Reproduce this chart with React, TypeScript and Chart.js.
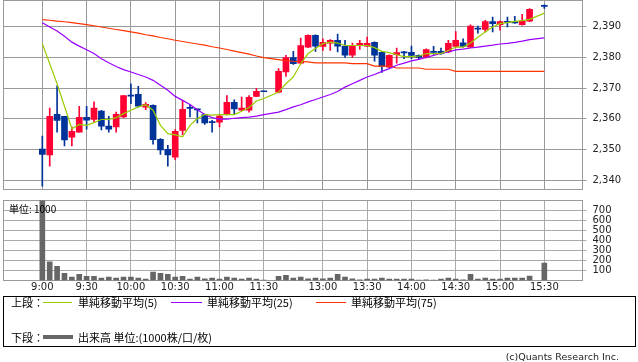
import React, { useEffect, useRef } from 'react';
import { Chart, registerables } from 'chart.js';

Chart.register(...registerables);

const categories = [
  '9:00', '9:05', '9:10', '9:15', '9:20', '9:25', '9:30', '9:35', '9:40', '9:45', '9:50', '9:55',
  '10:00', '10:05', '10:10', '10:15', '10:20', '10:25', '10:30', '10:35', '10:40', '10:45', '10:50', '10:55',
  '11:00', '11:05', '11:10', '11:15', '11:20', '11:25', '11:30', '',
  '12:30', '12:35', '12:40', '12:45', '12:50', '12:55',
  '13:00', '13:05', '13:10', '13:15', '13:20', '13:25', '13:30', '13:35', '13:40', '13:45', '13:50', '13:55',
  '14:00', '14:05', '14:10', '14:15', '14:20', '14:25', '14:30', '14:35', '14:40', '14:45', '14:50', '14:55',
  '15:00', '15:05', '15:10', '15:15', '15:20', '15:25', '15:30',
];

const openP = [
  2350.2, 2348.3, 2361.5, 2360.8, 2354.1, 2355.7, 2360.5, 2359.8, 2362.5, 2357.7, 2357.4, 2360.6,
  2367.6, 2368.0, 2363.8, 2364.4, 2353.4, 2350.1, 2347.6, 2356.3, 2363.6, 2363.1, 2361.4, 2359.0,
  2358.9, 2361.5, 2365.4, 2362.8, 2362.8, 2367.3, 2369.0, null,
  2368.7, 2375.2, 2379.9, 2378.1, 2383.3, 2387.1,
  2383.5, 2384.6, 2385.5, 2383.6, 2380.7, 2383.8, 2383.6, 2384.8, 2381.6, 2376.8, 2380.8, 2381.6,
  2381.6, 2380.6, 2380.0, 2381.8, 2381.9, 2381.7, 2383.5, 2384.7, 2383.3, 2389.3, 2389.0, 2391.6,
  2390.6, 2391.5, 2391.5, 2390.6, 2391.7, null, 2396.5,
];
const highP = [
  2354.4, 2363.5, 2370.7, 2360.8, 2357.4, 2364.1, 2364.1, 2365.5, 2362.8, 2360.8, 2362.2, 2367.6,
  2371.4, 2370.6, 2365.3, 2364.6, 2353.6, 2351.4, 2356.5, 2366.0, 2364.6, 2363.2, 2361.6, 2359.5,
  2361.5, 2367.6, 2366.2, 2367.1, 2367.6, 2369.9, 2369.0, null,
  2376.3, 2380.6, 2381.9, 2386.2, 2387.3, 2387.3,
  2386.0, 2385.7, 2387.5, 2385.5, 2384.6, 2385.5, 2386.5, 2385.0, 2381.8, 2380.8, 2383.0, 2381.9,
  2383.6, 2380.8, 2382.7, 2383.5, 2383.0, 2385.5, 2388.3, 2386.0, 2390.5, 2390.1, 2392.0, 2393.0,
  2391.8, 2393.0, 2393.3, 2393.9, 2395.8, null, 2397.0,
];
const lowP = [
  2338.2, 2344.7, 2355.7, 2351.2, 2351.2, 2355.7, 2356.7, 2359.0, 2356.4, 2355.7, 2355.7, 2360.4,
  2364.9, 2363.8, 2363.0, 2351.8, 2348.5, 2344.7, 2346.8, 2354.9, 2360.6, 2358.7, 2358.2, 2355.7,
  2357.4, 2361.3, 2361.5, 2362.6, 2362.2, 2367.2, 2368.8, null,
  2368.4, 2373.8, 2377.7, 2377.8, 2383.1, 2381.9,
  2382.2, 2382.2, 2381.7, 2379.9, 2379.9, 2382.5, 2383.4, 2378.7, 2375.1, 2376.6, 2378.1, 2379.5,
  2379.5, 2379.2, 2379.8, 2380.9, 2380.9, 2381.5, 2383.3, 2383.3, 2383.1, 2387.8, 2388.2, 2388.2,
  2388.8, 2389.8, 2391.0, 2390.4, 2391.5, null, 2395.8,
];
const closeP = [
  2348.5, 2360.8, 2359.5, 2353.2, 2356.0, 2360.5, 2359.6, 2363.5, 2357.6, 2356.7, 2361.5, 2367.6,
  2367.4, 2364.1, 2364.7, 2353.3, 2349.9, 2348.3, 2356.0, 2363.1, 2363.4, 2362.9, 2358.7, 2358.8,
  2360.9, 2365.4, 2363.2, 2363.5, 2367.0, 2368.9, 2368.8, null,
  2375.4, 2379.9, 2377.9, 2383.8, 2387.1, 2383.6,
  2384.8, 2385.5, 2383.6, 2380.7, 2383.6, 2384.5, 2384.5, 2380.7, 2377.0, 2380.6, 2381.5, 2381.4,
  2380.6, 2379.9, 2382.5, 2381.6, 2381.2, 2384.5, 2385.5, 2383.5, 2390.1, 2389.1, 2391.6, 2390.9,
  2391.6, 2391.3, 2391.1, 2391.7, 2395.5, null, 2396.5,
];

const sma5 = [
  2384.4, 2377.9, 2371.4, 2364.1, 2356.8, 2358.2, 2357.9, 2358.8, 2359.8, 2359.8, 2360.4, 2361.7,
  2362.8, 2363.9, 2364.6, 2362.8, 2357.9, 2355.2, 2354.8, 2354.2, 2357.9, 2360.1, 2361.4, 2361.2,
  2361.4, 2361.4, 2361.4, 2362.5, 2363.7, 2365.8, 2366.6, null,
  2368.7, 2371.4, 2373.6, 2377.9, 2381.2, 2382.8,
  2384.4, 2384.9, 2384.6, 2383.8, 2383.8, 2383.8, 2383.8, 2383.1, 2381.9, 2381.5, 2380.8, 2380.2,
  2380.2, 2380.4, 2381.2, 2381.2, 2381.2, 2382.2, 2383.3, 2383.3, 2384.6, 2386.5, 2388.2, 2389.8,
  2390.9, 2391.2, 2391.6, 2391.9, 2392.3, null, 2394.3,
];
const sma25 = [
  2391.2, 2389.8, 2388.5, 2386.8, 2384.9, 2383.6, 2382.4, 2381.2, 2379.5, 2378.2, 2377.0, 2376.0,
  2375.2, 2374.4, 2373.6, 2372.5, 2370.9, 2369.3, 2367.3, 2366.0, 2364.7, 2363.0, 2361.4, 2360.4,
  2359.9, 2359.9, 2360.2, 2360.4, 2360.6, 2360.9, 2361.4, null,
  2362.2, 2363.0, 2363.9, 2364.6, 2365.5, 2366.3,
  2367.1, 2367.9, 2368.9, 2370.3, 2371.4, 2372.5, 2373.6, 2374.4, 2375.4, 2376.3, 2377.4, 2378.1,
  2378.8, 2379.3, 2379.9, 2380.6, 2381.2, 2381.7, 2382.4, 2382.6, 2383.0, 2383.3, 2383.6, 2383.9,
  2384.3, 2384.5, 2384.8, 2385.2, 2385.7, null, 2386.3,
];
const sma75 = [
  2392.2, 2392.0, 2391.7, 2391.5, 2391.2, 2390.9, 2390.6, 2390.2, 2389.8, 2389.4, 2389.0, 2388.6,
  2388.2, 2387.8, 2387.3, 2386.9, 2386.4, 2386.0, 2385.5, 2385.1, 2384.7, 2384.3, 2383.9, 2383.4,
  2383.0, 2382.5, 2382.0, 2381.5, 2381.0, 2380.4, 2379.9, null,
  2379.2, 2378.9, 2378.7, 2378.6, 2378.5, 2378.2,
  2378.2, 2378.2, 2378.2, 2378.2, 2377.9, 2377.9, 2377.9, 2377.1, 2377.1, 2377.1, 2376.5, 2376.5,
  2376.5, 2376.5, 2376.1, 2376.1, 2376.1, 2376.1, 2375.4, 2375.4, 2375.4, 2375.4, 2375.4, 2375.4,
  2375.4, 2375.4, 2375.4, 2375.4, 2375.4, null, 2375.4,
];

const volume = [
  1000, 186, 142, 71, 34, 61, 41, 41, 24, 34, 24, 34,
  34, 24, 14, 85, 71, 61, 34, 41, 14, 34, 17, 24,
  14, 34, 24, 14, 24, 14, 3, null,
  41, 51, 24, 34, 17, 24,
  17, 24, 61, 34, 17, 7, 14, 14, 24, 14, 14, 14,
  14, 3, 7, 3, 14, 24, 14, 7, 61, 14, 24, 14,
  14, 24, 24, 24, 44, null, 173,
];

const priceTicks = [2340, 2350, 2360, 2370, 2380, 2390];
const volumeTicks = [100, 200, 300, 400, 500, 600, 700];
const timeTicks = ['9:00', '9:30', '10:00', '10:30', '11:00', '11:30', '13:00', '13:30', '14:00', '14:30', '15:00', '15:30'];

const UP = '#ff0033';
const DOWN = '#003399';
const X_MIN = -5.26;
const X_MAX = 73.17;
const FONT = "'DejaVu Sans', sans-serif";
const CJK = "'Noto Sans CJK JP', 'DejaVu Sans', sans-serif";

const framePlugin = (color: string) => ({
  id: 'frame',
  beforeDatasetsDraw(chart: any) {
    const { ctx, chartArea: a } = chart;
    ctx.save();
    ctx.strokeStyle = color;
    ctx.lineWidth = 1;
    ctx.strokeRect(a.left, a.top, a.right - a.left, a.bottom - a.top);
    ctx.restore();
  },
});

const noPad = (s: any) => {
  s.paddingTop = 0;
  s.paddingBottom = 0;
  s.paddingLeft = 0;
  s.paddingRight = 0;
};

export default function App() {
  const topRef = useRef<HTMLCanvasElement>(null);
  const botRef = useRef<HTMLCanvasElement>(null);

  useEffect(() => {
    Chart.defaults.font.family = FONT;
    Chart.defaults.font.size = 10;
    Chart.defaults.color = '#222';

    const idx = categories.map((_, i) => i);
    const valid = idx.filter((i) => openP[i] != null);
    const colors = valid.map((i) => ((closeP[i] as number) > (openP[i] as number) ? UP : DOWN));
    const tickIdx = timeTicks.map((t) => categories.indexOf(t));
    const line = (arr: (number | null)[]) => idx.map((i) => ({ x: i, y: arr[i] }));

    const xScale = (showLabels: boolean, h: number, gridColor: string) => ({
      type: 'linear' as const,
      min: X_MIN,
      max: X_MAX,
      offset: false,
      afterBuildTicks: (s: any) => {
        s.ticks = tickIdx.map((v) => ({ value: v }));
      },
      afterFit: (s: any) => {
        s.height = h;
        noPad(s);
      },
      grid: { color: gridColor, lineWidth: 1, drawTicks: false, offset: false },
      border: { display: false },
      ticks: {
        display: showLabels,
        autoSkip: false,
        maxRotation: 0,
        padding: 1,
        font: { family: FONT, size: 10 },
        color: '#222',
        callback: (v: any) => categories[Math.round(v)],
      },
    });

    const top = new Chart(topRef.current as HTMLCanvasElement, {
      type: 'bar',
      data: {
        datasets: [
          {
            type: 'line',
            data: line(sma75),
            borderColor: '#ff3300',
            borderWidth: 1.2,
            pointRadius: 0,
            spanGaps: true,
            order: 3,
          } as any,
          {
            type: 'line',
            data: line(sma25),
            borderColor: '#9900ff',
            borderWidth: 1.2,
            pointRadius: 0,
            spanGaps: true,
            order: 2,
          } as any,
          {
            type: 'line',
            data: line(sma5),
            borderColor: '#99cc00',
            borderWidth: 1.2,
            pointRadius: 0,
            spanGaps: true,
            order: 1,
          } as any,
          {
            type: 'bar',
            data: valid.map((i) => ({ x: i, y: [lowP[i], highP[i]] })),
            backgroundColor: colors,
            barThickness: 1,
            grouped: false,
            order: 5,
          } as any,
          {
            type: 'bar',
            data: valid.map((i) => ({ x: i, y: [openP[i], closeP[i]] })),
            backgroundColor: colors,
            barThickness: 6,
            minBarLength: 1,
            grouped: false,
            order: 4,
          } as any,
        ],
      },
      options: {
        animation: false,
        responsive: false,
        events: [],
        layout: { padding: { left: 3.5, top: 0.5, right: 0, bottom: 0 } },
        plugins: { legend: { display: false }, tooltip: { enabled: false } },
        scales: {
          x: xScale(false, 10.5, '#999999') as any,
          y: {
            position: 'right',
            min: 2337.1,
            max: 2398.4,
            beginAtZero: false,
            afterBuildTicks: (s: any) => {
              s.ticks = priceTicks.map((v) => ({ value: v }));
            },
            afterFit: (s: any) => {
              s.width = 55.5;
              noPad(s);
            },
            grid: { color: '#999999', lineWidth: 1, tickLength: 4, drawTicks: true },
            border: { display: false },
            ticks: {
              padding: 6,
              autoSkip: false,
              font: { family: FONT, size: 10 },
              color: '#222',
              callback: (v: any) => Number(v).toLocaleString('en-US'),
            },
          },
        },
      },
      plugins: [framePlugin('#999999')],
    } as any);

    const bot = new Chart(botRef.current as HTMLCanvasElement, {
      type: 'bar',
      data: {
        datasets: [
          {
            data: idx.filter((i) => volume[i] != null).map((i) => ({ x: i, y: volume[i] })),
            backgroundColor: '#666666',
            barThickness: 5,
            grouped: false,
            clip: 0,
          } as any,
        ],
      },
      options: {
        animation: false,
        responsive: false,
        events: [],
        layout: { padding: { left: 3.5, top: 5.5, right: 0, bottom: 0 } },
        plugins: { legend: { display: false }, tooltip: { enabled: false } },
        scales: {
          x: xScale(true, 19.5, '#aaaaaa') as any,
          y: {
            position: 'right',
            min: 0,
            max: 800,
            afterBuildTicks: (s: any) => {
              s.ticks = volumeTicks.map((v) => ({ value: v }));
            },
            afterFit: (s: any) => {
              s.width = 55.5;
              noPad(s);
            },
            grid: { color: '#aaaaaa', lineWidth: 1, tickLength: 4, drawTicks: true },
            border: { display: false },
            ticks: {
              padding: 6,
              autoSkip: false,
              font: { family: FONT, size: 10 },
              color: '#222',
              callback: (v: any) => String(v),
            },
          },
        },
      },
      plugins: [framePlugin('#999999')],
    } as any);

    return () => {
      top.destroy();
      bot.destroy();
    };
  }, []);

  const txt = (left: number, topY: number, s: string, size = 11, fam = CJK): React.ReactNode => (
    <div
      style={{
        position: 'absolute',
        left,
        top: topY,
        fontFamily: fam,
        fontSize: size,
        lineHeight: '14px',
        color: '#000',
        whiteSpace: 'nowrap',
      }}
    >
      {s}
    </div>
  );
  const swatch = (left: number, y: number, w: number, h: number, color: string) => (
    <div style={{ position: 'absolute', left, top: y - h / 2, width: w, height: h, background: color }} />
  );

  return (
    <div style={{ position: 'absolute', left: 0, top: 0, width: 638, height: 362, background: '#fff', overflow: 'hidden' }}>
      <canvas ref={topRef} width={638} height={200} style={{ position: 'absolute', left: 0, top: 0, width: 638, height: 200 }} />
      <canvas ref={botRef} width={638} height={105} style={{ position: 'absolute', left: 0, top: 195, width: 638, height: 105 }} />
      <div style={{ position: 'absolute', left: 9, top: 202, fontFamily: CJK, fontSize: 10, lineHeight: '14px', color: '#000', zIndex: 2 }}>
        単位: 1000
      </div>
      <div
        style={{
          position: 'absolute',
          left: 3,
          top: 296,
          width: 633,
          height: 51,
          border: '1px solid #000',
          boxSizing: 'border-box',
        }}
      />
      {txt(11, 295, '上段：')}
      {swatch(43, 302.5, 29, 1, '#99cc00')}
      {txt(78, 295, '単純移動平均(5)')}
      {swatch(171, 302.5, 31, 1, '#9900ff')}
      {txt(207, 295, '単純移動平均(25)')}
      {swatch(316, 302.5, 30, 1, '#ff3300')}
      {txt(351, 295, '単純移動平均(75)')}
      {txt(11, 329.5, '下段：')}
      {swatch(43, 336.5, 30, 4, '#666666')}
      {txt(78, 329.5, '出来高 単位:(1000株/口/枚)')}
      <div
        style={{
          position: 'absolute',
          right: 19,
          top: 350,
          fontFamily: FONT,
          fontSize: 9.5,
          lineHeight: '14px',
          color: '#222',
          whiteSpace: 'nowrap',
        }}
      >
        (c)Quants Research Inc.
      </div>
    </div>
  );
}
